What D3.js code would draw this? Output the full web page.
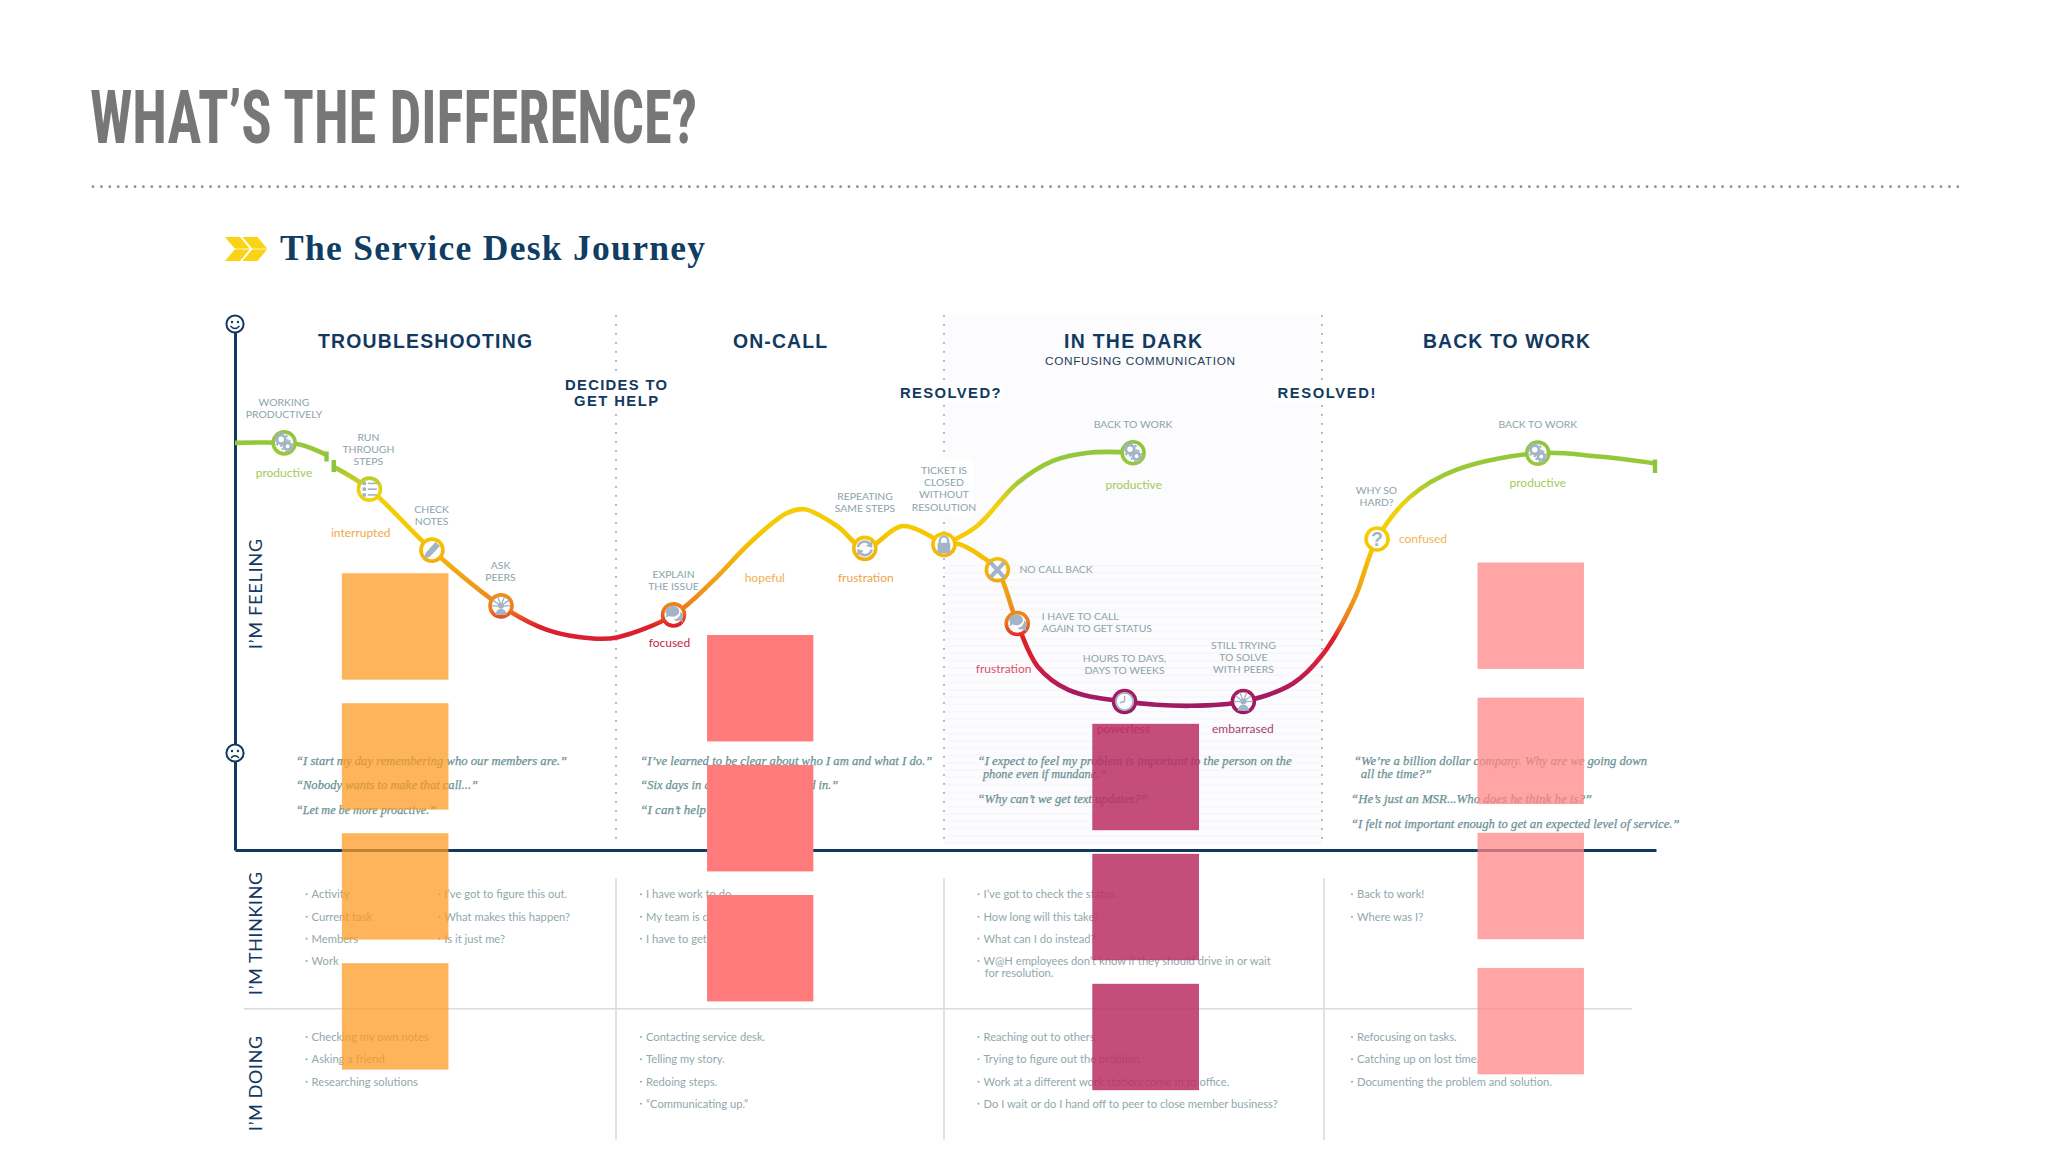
<!DOCTYPE html>
<html><head><meta charset="utf-8">
<script src="https://cdnjs.cloudflare.com/ajax/libs/d3/7.8.5/d3.min.js"></script>
<style>html,body{margin:0;background:#fff}svg{display:block}</style></head>
<body><svg id="c" width="2048" height="1152" viewBox="0 0 2048 1152"></svg>
<script>
// ---------- DATA ----------
const pageTitle = "WHAT’S THE DIFFERENCE?";
const chartTitle = "The Service Desk Journey";
const stages = ["TROUBLESHOOTING","ON-CALL","IN THE DARK","BACK TO WORK"];
const stageSubtitle = "CONFUSING COMMUNICATION";
const moments = [["DECIDES TO","GET HELP"],["RESOLVED?"],["RESOLVED!"]];
const rowLabels = ["I’M FEELING","I’M THINKING","I’M DOING"];

// journey curve: time (0-100) and feeling score
const timeA = [0,3.46,4.71,6.44];
const feelA = [72.3,72.3,71.8,69.5];
const timeB = [6.95,9.46,13.86,18.72,21.96,25.19,26.95,30.86,33.6,36.3,38.83,40.08,42.42,44.32,47.01,49.89];
const feelB = [66.7,61.5,47.3,34.3,28.7,26.7,27.0,32.2,40.0,49.2,55.9,56.8,52.8,47.7,52.9,48.6];
const timeUp = [49.9,52.18,55.05,57.56,60.08,63.2];
const feelUp = [48.6,52.8,62.9,68.1,70.0,70.0];
const timeDown = [49.9,50.93,52.54,53.65,55.05,56.5,58.65,62.6,67.26,70.96,74.45,76.6,78.75,80.37,82.7,85.93,91.68,95.99,99.93];
const feelDown = [48.6,48.7,45.8,42.7,30.2,20.1,14.7,12.0,11.0,12.0,16.2,23.2,35.7,49.9,59.7,66.0,69.9,69.1,67.5];

const nodeTime = [3.46,9.46,13.86,18.72,30.86,44.32,49.89,63.2,53.65,55.05,62.6,70.96,80.37,91.68];
const nodeFeel = [72.3,61.5,47.3,34.3,32.2,47.7,48.6,70,42.7,30.2,12,12,49.9,69.9];
const nodeIcon = ["gears","list","pencil","peers","chat","refresh","lock","gears","x","chat","clock","peers","q","gears"];

const nodeLabels = [["WORKING","PRODUCTIVELY"],["RUN","THROUGH","STEPS"],["CHECK","NOTES"],["ASK","PEERS"],["EXPLAIN","THE ISSUE"],["REPEATING","SAME STEPS"],["TICKET IS","CLOSED","WITHOUT","RESOLUTION"],["BACK TO WORK"],["NO CALL BACK"],["I HAVE TO CALL","AGAIN TO GET STATUS"],["HOURS TO DAYS,","DAYS TO WEEKS"],["STILL TRYING","TO SOLVE","WITH PEERS"],["WHY SO","HARD?"],["BACK TO WORK"]];
const feelingWords = ["productive","interrupted","focused","hopeful","frustration","productive","frustration","powerless","embarrased","confused","productive"];

const quotes1 = ["“I start my day remembering who our members are.”","“Nobody wants to make that call...”","“Let me be more proactive.”"];
const quotes2 = ["“I’ve learned to be clear about who I am and what I do.”","“Six days in a row I’ve been called in.”","“I can’t help it.”"];
const quotes3 = ["“I expect to feel my problem is important to the person on the","phone even if mundane.”","“Why can’t we get text updates?”"];
const quotes4 = ["“We’re a billion dollar company. Why are we going down","all the time?”","“He’s just an MSR...Who does he think he is?”","“I felt not important enough to get an expected level of service.”"];

const think1 = ["Activity","Current task","Members","Work"];
const think1b = ["I’ve got to figure this out.","What makes this happen?","Is it just me?"];
const think2 = ["I have work to do.","My team is depending on me.","I have to get this done."];
const think3 = ["I’ve got to check the status.","How long will this take?","What can I do instead?","W@H employees don’t know if they should drive in or wait"];
const think3cont = "for resolution.";
const think4 = ["Back to work!","Where was I?"];
const do1 = ["Checking my own notes","Asking a friend","Researching solutions"];
const do2 = ["Contacting service desk.","Telling my story.","Redoing steps.","“Communicating up.”"];
const do3 = ["Reaching out to others.","Trying to figure out the problem.","Work at a different work station/come in to office.","Do I wait or do I hand off to peer to close member business?"];
const do4 = ["Refocusing on tasks.","Catching up on lost time.","Documenting the problem and solution."];

// overlay blocks: start/end time, tops in feeling units, height in feeling units
const blockStart = [7.52,33.22,60.33,87.44];
const blockEnd = [15.02,40.70,67.84,94.93];
const blockTops = [[41.9,11.6,-18.7,-49.0],[27.5,-2.8,-33.1],[6.8,-23.5,-53.8],[44.4,12.9,-18.6,-50.1]];
const blockHeight = 24.8;

// ---------- LAYOUT ----------
const navy="#12395f", labelCol="#8ba3aa", bodyCol="#90a8ac", quoteCol="#6a9194";
const svg=d3.select("#c");
const x=d3.scaleLinear().domain([0,100]).range([235,1656]);
const y=d3.scaleLinear().domain([-22.61,98.6]).range([850,330]);
const defs=svg.append("defs");
const moodStops=[[0,"#8cc63f"],[.15,"#a2c933"],[.235,"#f0d210"],[.38,"#f6c800"],[.58,"#ee9a1a"],[.66,"#ee7a1c"],[.72,"#dd1f2b"],[.80,"#d91f38"],[.92,"#a61a60"],[1,"#9a1b68"]];
function moodGrad(id,y1,y2){const g=defs.append("linearGradient").attr("id",id).attr("gradientUnits","userSpaceOnUse")
  .attr("x1",0).attr("x2",0).attr("y1",y1).attr("y2",y2);
  moodStops.forEach(s=>g.append("stop").attr("offset",s[0]).attr("stop-color",s[1]));}
moodGrad("mood",440,715);
moodGrad("moodEarly",428,703);
const pat=defs.append("pattern").attr("id","stripes").attr("patternUnits","userSpaceOnUse").attr("width",10).attr("height",7.3);
pat.append("rect").attr("width",10).attr("height",7.3).attr("fill","#fcfbfd");
pat.append("rect").attr("y",3).attr("width",10).attr("height",1.2).attr("fill","#f6f5f8");

// band
svg.append("rect").attr("x",944).attr("y",315).attr("width",378).attr("height",245).attr("fill","#fcfbfd");
svg.append("rect").attr("x",944).attr("y",560).attr("width",378).attr("height",285).attr("fill","url(#stripes)");

// dotted column lines
[616,944,1322].forEach(px=>svg.append("line").attr("x1",px).attr("x2",px).attr("y1",315).attr("y2",845)
  .attr("stroke","#a9a9b4").attr("stroke-width",1.8).attr("stroke-dasharray","1.8 7.2"));
// solid dividers
[616,944,1324].forEach(px=>svg.append("line").attr("x1",px).attr("x2",px).attr("y1",878).attr("y2",1140)
  .attr("stroke","#cfd3d6").attr("stroke-width",1.3));
svg.append("line").attr("x1",244).attr("x2",1632).attr("y1",1008.7).attr("y2",1008.7).attr("stroke","#dcdcdc").attr("stroke-width",1.5);

function fit(t,x0,y0,len,size,fam,weight,col,anchor,adj){
  const e=svg.append("text").attr("x",x0).attr("y",y0).attr("font-size",size).attr("font-family",fam)
   .attr("font-weight",weight||400).attr("fill",col).attr("text-anchor",anchor||"start").text(t);
  if(len) e.attr("textLength",len).attr("lengthAdjust",adj||"spacingAndGlyphs");
  return e;
}
fit(pageTitle,90,143,607,75,"'Liberation Sans Narrow','Roboto Condensed','Liberation Sans'",700,"#777");
svg.append("line").attr("x1",93).attr("x2",1960).attr("y1",186.7).attr("y2",186.7)
  .attr("stroke","#8f8f8f").attr("stroke-width",2.8).attr("stroke-linecap","round").attr("stroke-dasharray","0 8.4");
[0,17.5].forEach(dx=>svg.append("polygon").attr("fill","#f9d415")
  .attr("points",[[225,237],[240,237],[250,249],[240,261],[225,261],[235,249]].map(p=>[p[0]+dx,p[1]].join(",")).join(" ")));
svg.append("line").attr("x1",225).attr("x2",268).attr("y1",249).attr("y2",249).attr("stroke","#fff").attr("stroke-width",.8);
fit(chartTitle,280,260,425,35.5,"'Liberation Serif'",700,"#0f3d63","start","spacing");

// axes
svg.append("g").attr("transform",`translate(${x(0)},0)`).call(d3.axisLeft(y).tickValues([]).tickSizeOuter(0))
  .call(g=>g.select(".domain").attr("stroke",navy).attr("stroke-width",3));
svg.append("g").attr("transform",`translate(0,${y(-22.61)})`).call(d3.axisBottom(x).tickValues([]).tickSizeOuter(0))
  .call(g=>g.select(".domain").attr("stroke",navy).attr("stroke-width",3));

// face icons
function face(cy,happy){
  const g=svg.append("g").attr("transform",`translate(235,${cy})`);
  g.append("circle").attr("r",8.6).attr("fill","#fff").attr("stroke",navy).attr("stroke-width",2);
  [-3,3].forEach(d=>g.append("circle").attr("cx",d).attr("cy",-2).attr("r",1.2).attr("fill",navy));
  g.append("path").attr("d",happy?"M-4.5,2 Q0,7 4.5,2":"M-4,5 Q0,0.5 4,5").attr("fill","none").attr("stroke",navy).attr("stroke-width",1.4);
}
face(324,true); face(753,false);

// stage heads
const stageLayout=[[318,214],[733,94],[1064,138],[1423,167]];
stages.forEach((s,i)=>fit(s,stageLayout[i][0],348,stageLayout[i][1],19.4,"'Liberation Sans'",700,navy,"start","spacing"));
fit(stageSubtitle,1045,365,190,11.8,"'Liberation Sans'",400,"#1d3d5a","start","spacing");
const momentLayout=[[[565,390,102],[574,405.7,84]],[[900,397.7,100.5]],[[1277.5,397.7,98]]];
moments.forEach((m,i)=>m.forEach((t,j)=>{const l=momentLayout[i][j];
  svg.append("rect").attr("x",l[0]-3).attr("y",l[1]-15).attr("width",l[2]+6).attr("height",20).attr("fill","#fff").attr("opacity",.92);
  fit(t,l[0],l[1],l[2],14.8,"'Liberation Sans'",700,navy,"start","spacing");}));
// halo behind the ticket label
svg.append("rect").attr("x",915).attr("y",459).attr("width",58).attr("height",57).attr("fill","#fff").attr("opacity",.92);

// rotated row labels
const rowLayout=[[262,649,110],[262,995,123],[262,1131,95]];
rowLabels.forEach((t,i)=>{const l=rowLayout[i];
  fit(t,0,0,l[2],17.8,"Lato",400,navy,"start","spacing").attr("transform",`translate(${l[0]},${l[1]}) rotate(-90)`);});

// curve
const line=d3.line().x(d=>x(d[0])).y(d=>y(d[1])).curve(d3.curveCatmullRom.alpha(.5));
[[timeA,feelA,"moodEarly"],[timeB,feelB,"moodEarly"],[timeUp,feelUp,"mood"],[timeDown,feelDown,"mood"]].forEach(([t,f,g])=>
  svg.append("path").attr("d",line(t.map((v,i)=>[v,f[i]]))).attr("fill","none").attr("stroke",`url(#${g})`).attr("stroke-width",4.6).attr("stroke-linecap","butt"));
// break ticks
[[timeA[3],451.5,461.5],[timeB[0],460,472],[timeDown[18],459.5,473]].forEach(k=>
  svg.append("line").attr("x1",x(k[0])).attr("x2",x(k[0])).attr("y1",k[1]).attr("y2",k[2]).attr("stroke","#8cc63f").attr("stroke-width",4.4));

// icons
const ic="#a3b4c6";
const icons={
 gears(g){[[-2.6,-3,3.6],[3,3,2.9]].forEach(c=>g.append("circle").attr("cx",c[0]).attr("cy",c[1]).attr("r",c[2]).attr("fill","none").attr("stroke",ic).attr("stroke-width",2.4));
   [[-2.6,-3,5.6],[3,3,4.8]].forEach(c=>g.append("circle").attr("cx",c[0]).attr("cy",c[1]).attr("r",c[2]).attr("fill","none").attr("stroke",ic).attr("stroke-width",1.6).attr("stroke-dasharray","2 1.8"));},
 list(g){[-5,0,5].forEach(d=>{g.append("rect").attr("x",-6).attr("y",d-1.5).attr("width",3).attr("height",3).attr("fill",ic);
   g.append("rect").attr("x",-1.5).attr("y",d-.7).attr("width",8).attr("height",1.4).attr("fill",ic);});},
 pencil(g){g.append("path").attr("d","M-6.5,7 L-5.5,2.5 L3,-7 L7,-3.5 L-2,6 Z").attr("fill",ic);},
 peers(g){g.append("circle").attr("cy",0).attr("r",2.6).attr("fill",ic);g.append("path").attr("d","M-5,8 Q-4,2.5 0,2.5 Q4,2.5 5,8 Z").attr("fill",ic);
   [[-7,-5],[-3,-8],[3,-8],[7,-5],[-8,0],[8,0]].forEach(p=>g.append("line").attr("x2",p[0]).attr("y2",p[1]).attr("stroke",ic).attr("stroke-width",1.2));},
 chat(g){g.append("path").attr("d","M-7,-3 a6,5 0 1 1 12,0 a6,5 0 0 1 -9,4 l-3,1.5 l1,-3 a6,5 0 0 1 -1,-2.5 Z").attr("fill",ic);
   g.append("path").attr("d","M6,-2.5 a4.5,4 0 0 1 1.5,6 l1,3 l-3.5,-1.5 a4.5,3.5 0 0 1 -5,-1 a7,6 0 0 0 6,-6.5 Z").attr("fill",ic);},
 refresh(g){g.append("path").attr("d","M-6,-1 A6,6 0 0 1 5,-3").attr("fill","none").attr("stroke",ic).attr("stroke-width",2.2);
   g.append("path").attr("d","M6,1 A6,6 0 0 1 -5,3").attr("fill","none").attr("stroke",ic).attr("stroke-width",2.2);
   g.append("path").attr("d","M6.5,-6.5 L6.5,-0.5 L1,-2 Z M-6.5,6.5 L-6.5,0.5 L-1,2 Z").attr("fill",ic);},
 lock(g){g.append("path").attr("d","M-3.6,-1 V-3.5 a3.6,3.6 0 0 1 7.2,0 V-1").attr("fill","none").attr("stroke",ic).attr("stroke-width",2);
   g.append("rect").attr("x",-5.5).attr("y",-1.5).attr("width",11).attr("height",9).attr("rx",1).attr("fill",ic);},
 x(g){g.append("path").attr("d","M-6,-6.5 L6,6.5 M6,-6.5 L-6,6.5").attr("stroke",ic).attr("stroke-width",3.6);},
 clock(g){g.append("circle").attr("r",7.5).attr("fill","none").attr("stroke",ic).attr("stroke-width",1.6);
   g.append("path").attr("d","M0,-5 V0 L-4,1").attr("fill","none").attr("stroke",ic).attr("stroke-width",1.3);},
 q(g){g.append("text").attr("y",6).attr("text-anchor","middle").attr("font-size",17).attr("font-weight",700).attr("font-family","'Liberation Sans'").attr("fill",ic).text("?");}
};
nodeTime.forEach((t,i)=>{
  svg.append("circle").attr("cx",x(t)).attr("cy",y(nodeFeel[i])).attr("r",11).attr("fill","#fff")
    .attr("stroke",i<7?"url(#moodEarly)":"url(#mood)").attr("stroke-width",3.6);
  const g=svg.append("g").attr("transform",`translate(${x(t)},${y(nodeFeel[i])}) scale(1.15)`);
  icons[nodeIcon[i]](g);
});

// node labels: [x, first baseline, anchor]
const nodeLabelLayout=[[284,405.7,"middle"],[368.4,441,"middle"],[431.6,512.7,"middle"],[500.5,569,"middle"],[673.5,578,"middle"],[865,500,"middle"],[944,474,"middle"],[1133,428,"middle"],[1019.4,572.7,"start"],[1041.8,620,"start"],[1124.5,662,"middle"],[1243.4,649,"middle"],[1376.5,493.7,"middle"],[1537.8,428,"middle"]];
nodeLabels.forEach((ls,i)=>ls.forEach((t,j)=>{const l=nodeLabelLayout[i];
  fit(t,l[0],l[1]+j*12.2,null,10.4,"Lato",400,labelCol,l[2]);}));

// feeling words: [x, baseline, colour]
const wordLayout=[[284,476.7,"#a6c957"],[360.7,536.7,"#f0a94a"],[669.4,646.7,"#c8243f"],[764.8,581.7,"#efb04f"],[865.8,581.7,"#eea44a"],[1133.7,489.3,"#a6c957"],[1003.6,672.7,"#e0506a"],[1123.5,733,"#a83a68"],[1242.9,733,"#a83f70"],[1423,543.3,"#efb55a"],[1537.8,486.7,"#a6c957"]];
feelingWords.forEach((t,i)=>{const l=wordLayout[i];fit(t,l[0],l[1],null,12,"Lato",400,l[2],"middle");});

// quotes
const qf="'Liberation Serif'";
function quote(t,x0,y0,len){fit(t,x0,y0,len,13,qf,400,quoteCol).attr("font-style","italic").attr("stroke",quoteCol).attr("stroke-width",.25);}
[765,789.3,814.3].forEach((yy,i)=>quote(quotes1[i],296,yy,[271,182,140][i]));
[765,789.3,814.3].forEach((yy,i)=>quote(quotes2[i],640.3,yy,[292,198,null][i]));
[[977.6,765,314],[983,778.3,123],[977.6,803.3,170]].forEach((l,i)=>quote(quotes3[i],l[0],l[1],l[2]));
[[1354,765,293],[1360.7,778.3,71],[1351,803.3,241],[1351,828.3,328.6]].forEach((l,i)=>quote(quotes4[i],l[0],l[1],l[2]));

// bullet columns
const bodySize=11.2;
function bullets(list,x0,ys){list.forEach((t,i)=>{
  svg.append("circle").attr("cx",x0+1).attr("cy",ys[i]-4).attr("r",1).attr("fill",bodyCol);
  fit(t,x0+6,ys[i],null,bodySize,"Lato",400,bodyCol);});}
const thinkY=[898.3,920.7,942.7,965], doY=[1041,1063.3,1085.7,1107.7];
bullets(think1,305.6,thinkY);bullets(think1b,438.3,thinkY);bullets(think2,640,thinkY);bullets(think3,977.5,thinkY);bullets(think4,1351,thinkY);
fit(think3cont,984.7,977.3,null,bodySize,"Lato",400,bodyCol);
bullets(do1,305.6,doY);bullets(do2,640,doY);bullets(do3,977.5,doY);bullets(do4,1351,doY);

// overlay blocks
const blockCol=["#fc9b23","#ff7b7b","#bb2e63","#ff8787"], blockOp=[.75,1,.85,.75];
blockTops.forEach((tops,i)=>svg.append("g").selectAll("rect").data(tops).join("rect")
  .attr("x",x(blockStart[i])).attr("width",x(blockEnd[i])-x(blockStart[i]))
  .attr("y",d=>y(d)).attr("height",d=>y(d-blockHeight)-y(d))
  .attr("fill",blockCol[i]).attr("opacity",blockOp[i]));
</script></body></html>
